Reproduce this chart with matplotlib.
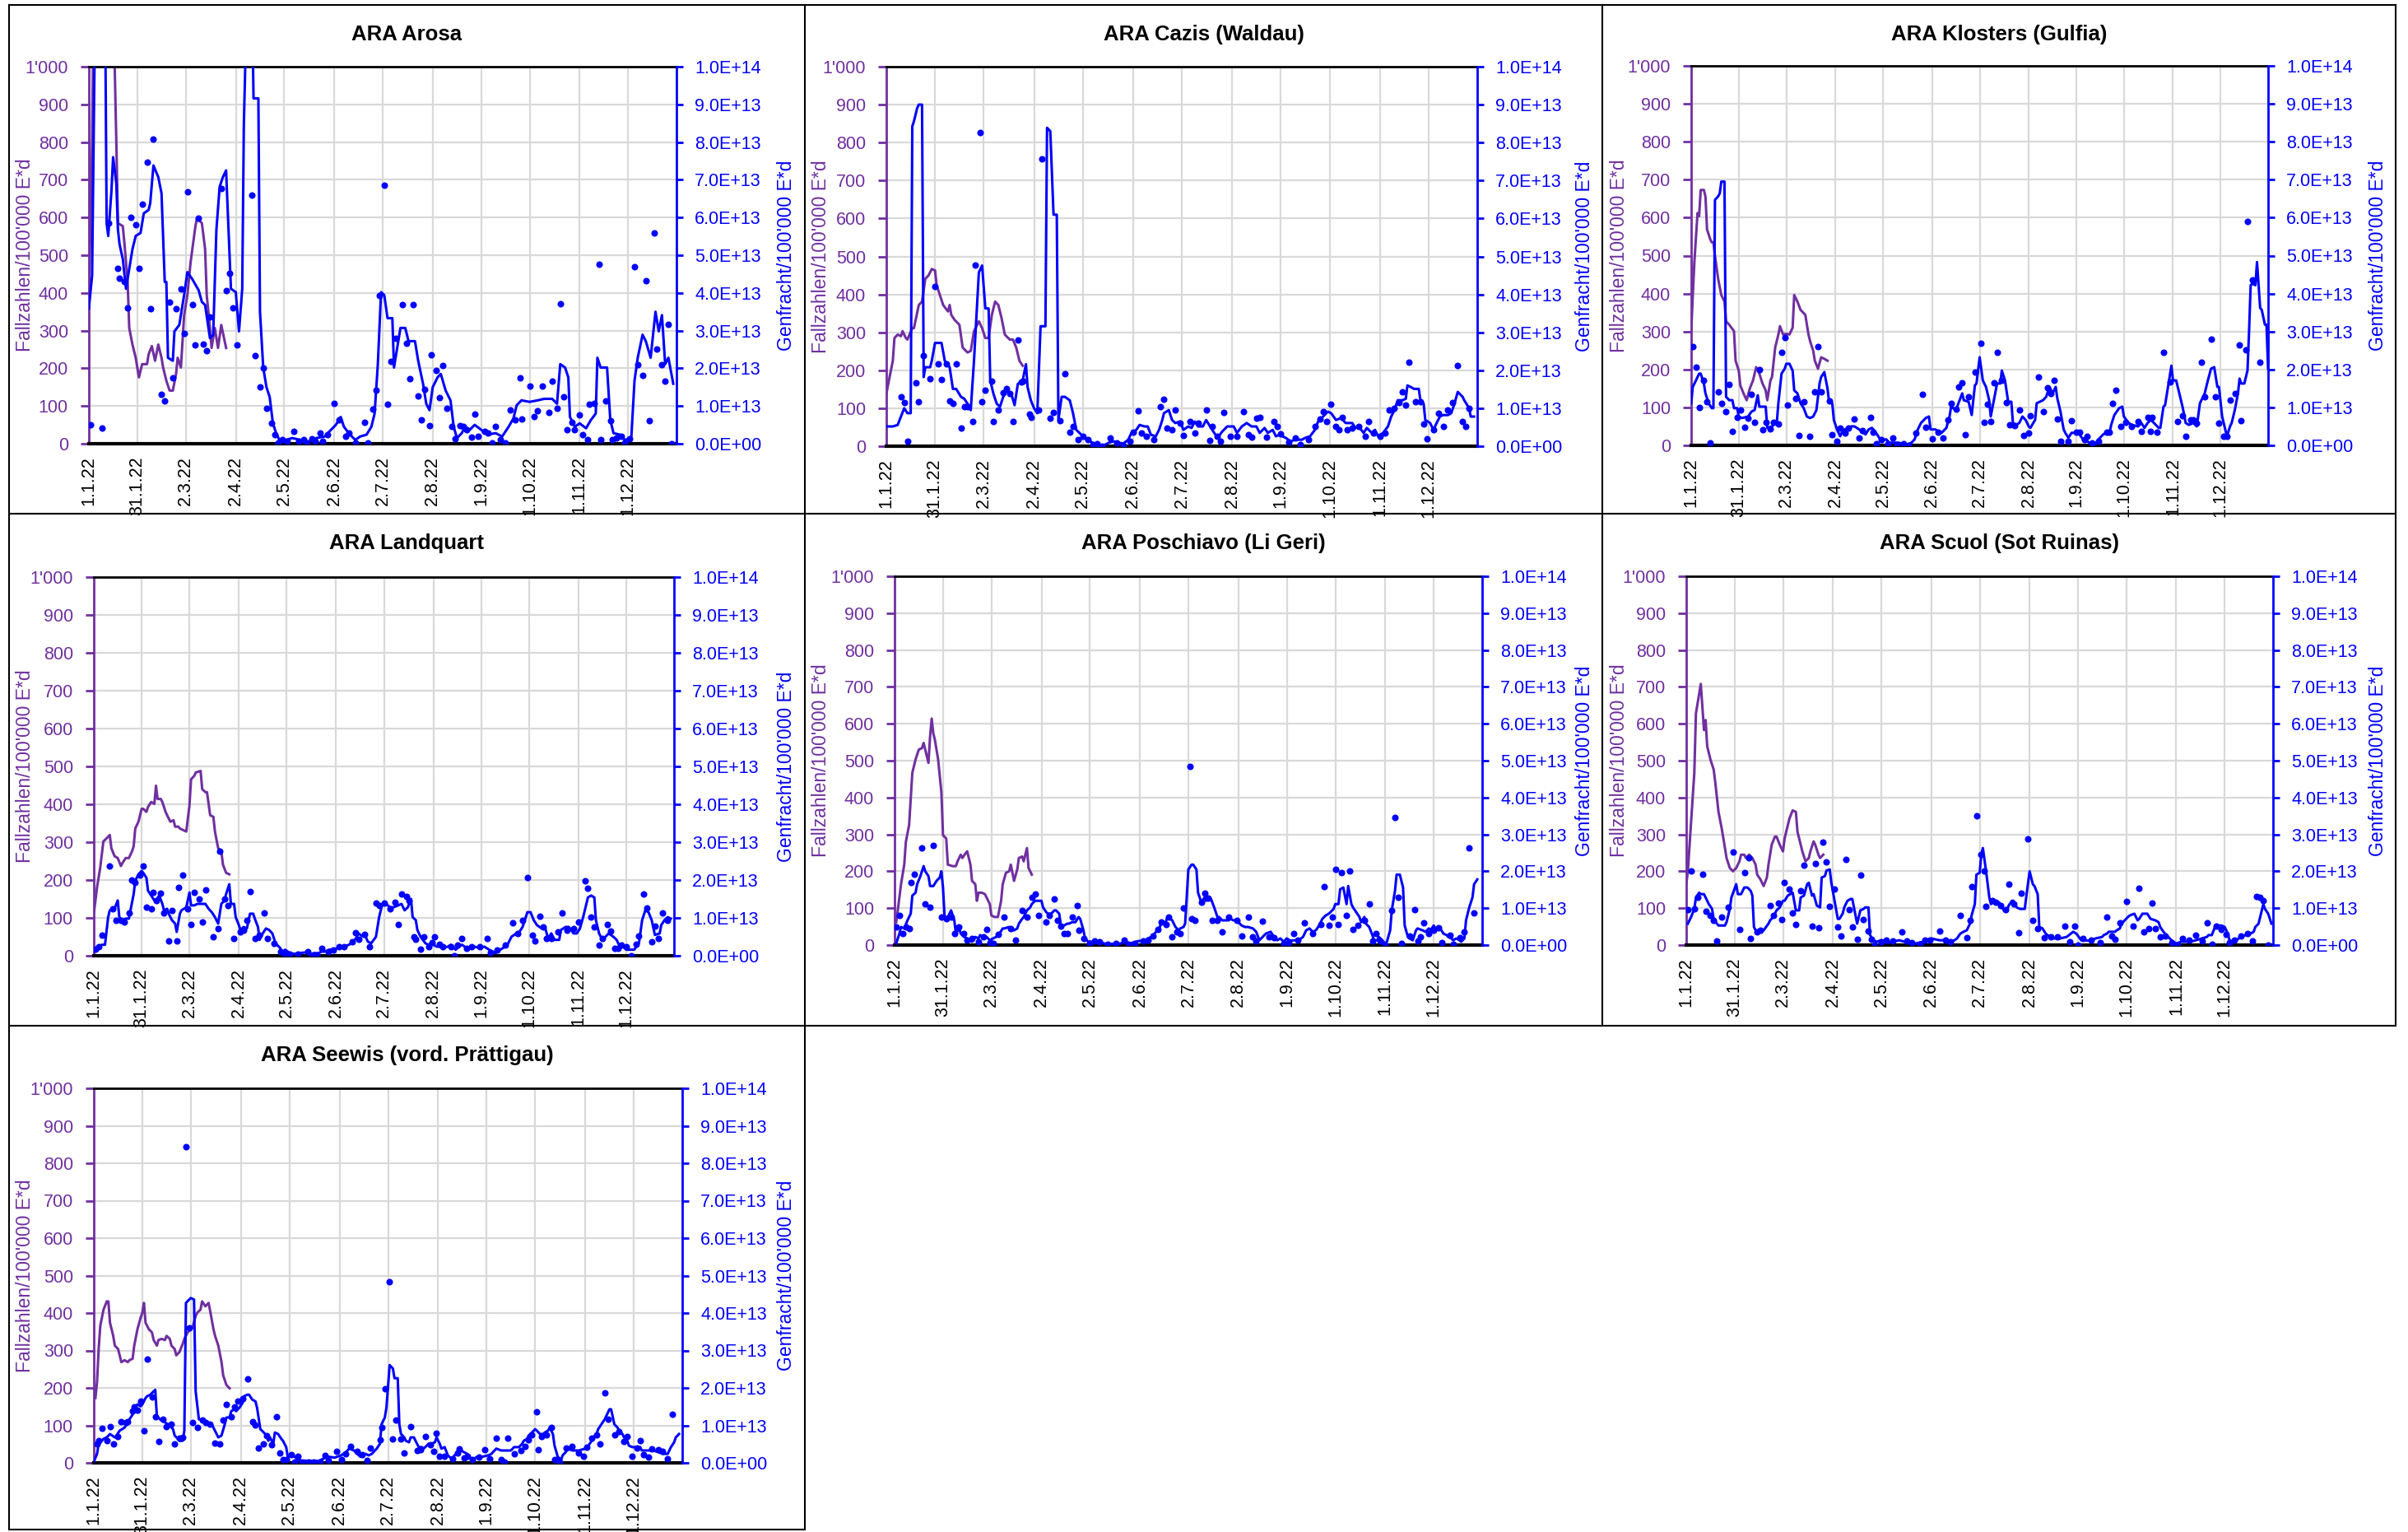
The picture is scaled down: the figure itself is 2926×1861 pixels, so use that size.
import matplotlib

matplotlib.use("Agg")
import matplotlib.pyplot as plt
import numpy as np
from matplotlib.lines import Line2D
from matplotlib.ticker import FuncFormatter

plt.rcParams["font.family"] = ["Liberation Sans", "DejaVu Sans"]

W, H = 2926, 1861
PURPLE = "#7030A0"
BLUE = "#0000FF"
GRID = "#D9D9D9"
LOAD_UNIT = 1e13  # gene load values below are given in units of 1E+13

tick_days = [0, 30, 60, 91, 121, 152, 182, 213, 243, 273, 304, 334]
tick_labels = ["1.1.22", "31.1.22", "2.3.22", "2.4.22", "2.5.22", "2.6.22",
               "2.7.22", "2.8.22", "1.9.22", "1.10.22", "1.11.22", "1.12.22"]

# ---- ARA Arosa ----
arosa_cases = [(0, 380), (2, 800), (3, 1200), (10, 1300), (15, 1200), (17, 800), (18, 585), (21, 577),
               (22, 533), (24, 429), (25, 307), (27, 263), (29, 228), (31, 176), (33, 211), (36, 211),
               (37, 237), (39, 259), (41, 220), (43, 263), (45, 228), (46, 202), (48, 167), (50, 141),
               (52, 141), (54, 185), (55, 228), (57, 202), (59, 341), (61, 394), (63, 481), (66, 577),
               (67, 598), (70, 585), (72, 516), (73, 394), (75, 307), (76, 254), (78, 307), (80, 254),
               (82, 315), (85, 254)]
arosa_load = [(0, 3.59), (2, 4.46), (4, 12), (10, 12), (11, 5.85), (12, 5.51), (14, 6.72), (15, 7.6),
              (17, 6.9), (18, 5.68), (19, 5.29), (21, 4.9), (23, 4.11), (25, 4.63), (27, 5.16), (29, 5.51),
              (32, 5.59), (34, 6.11), (37, 6.2), (38, 6.38), (40, 7.38), (43, 7.07), (45, 6.64), (47, 4.29),
              (48, 4.29), (49, 2.28), (52, 2.2), (53, 2.98), (56, 3.15), (59, 3.94), (61, 4.55), (64, 4.37),
              (68, 4.07), (70, 3.76), (72, 3.68), (75, 2.8), (77, 2.89), (79, 5.68), (81, 6.81), (83, 7.07),
              (85, 7.25), (87, 5.16), (88, 4.11), (91, 4.02), (93, 2.98), (95, 4.11), (96, 8.47), (98, 12),
              (101, 12), (102, 9.16), (105, 9.16), (106, 3.5), (108, 2.02), (110, 1.5), (112, 1.24),
              (114, 0.54), (116, 0.28), (118, 0.1), (122, 0.1), (126, 0.15), (131, 0.1), (136, 0.06),
              (141, 0.15), (146, 0.19), (150, 0.37), (153, 0.5), (156, 0.71), (158, 0.45), (161, 0.28),
              (165, 0.1), (168, 0.19), (172, 0.24), (175, 0.45), (177, 0.8), (179, 2.11), (181, 4.02),
              (183, 3.94), (185, 3.33), (188, 3.33), (189, 2.02), (192, 2.8), (193, 3.07), (196, 3.07),
              (198, 2.72), (202, 2.72), (204, 2.2), (207, 1.59), (209, 1.06), (211, 0.89), (213, 1.5),
              (216, 1.76), (218, 1.85), (221, 1.41), (224, 1.15), (226, 0.45), (228, 0.15), (231, 0.28),
              (233, 0.45), (236, 0.37), (239, 0.5), (243, 0.37), (247, 0.24), (252, 0.28), (256, 0.19),
              (260, 0.45), (263, 0.67), (265, 1.02), (268, 1.15), (273, 1.11), (278, 1.15), (282, 1.19),
              (287, 1.19), (290, 1.06), (292, 2.11), (295, 2.02), (297, 1.76), (298, 0.71), (301, 0.45),
              (304, 0.54), (308, 0.41), (311, 0.63), (314, 0.8), (315, 2.28), (317, 2.02), (321, 2.02),
              (323, 0.63), (325, 0.28), (329, 0.24), (332, 0.1), (336, 0.15), (338, 1.67), (340, 2.28),
              (343, 2.89), (345, 2.72), (348, 2.28), (351, 3.5), (353, 2.98), (355, 3.41), (357, 2.11),
              (359, 2.28), (362, 1.59)]
arosa_daily = [(1, 0.50), (8, 0.41), (12, 5.85), (18, 4.65), (19, 4.39), (22, 4.30), (24, 3.61), (26, 6.0),
               (29, 5.81), (31, 4.65), (33, 6.36), (36, 7.47), (38, 3.57), (40, 8.07), (45, 1.32), (47, 1.13),
               (50, 3.75), (52, 1.74), (54, 3.59), (57, 4.11), (59, 2.93), (61, 6.68), (64, 3.70), (66, 2.62),
               (68, 5.98), (71, 2.64), (73, 2.46), (75, 3.36), (82, 6.76), (85, 4.07), (87, 4.53), (89, 3.61),
               (92, 2.63), (101, 6.6), (103, 2.33), (106, 1.50), (108, 2.0), (110, 0.93), (113, 0.54),
               (115, 0.24), (117, 0.02), (120, 0.10), (123, 0.06), (127, 0.32), (130, 0.06), (133, 0.10),
               (135, 0.0), (138, 0.14), (140, 0.06), (143, 0.28), (145, 0.06), (148, 0.24), (152, 1.06),
               (155, 0.63), (159, 0.19), (161, 0.28), (165, 0.03), (171, 0.57), (173, 0.03), (176, 0.91),
               (178, 1.43), (180, 3.94), (183, 6.85), (185, 1.04), (187, 2.18), (190, 2.80), (194, 3.69),
               (197, 2.67), (199, 1.72), (201, 3.69), (204, 1.27), (206, 0.63), (208, 1.45), (211, 0.48),
               (212, 2.35), (215, 1.95), (217, 1.22), (219, 2.07), (222, 0.94), (225, 0.45), (227, 0.13),
               (230, 0.47), (232, 0.45), (234, 0.37), (237, 0.17), (239, 0.78), (241, 0.19), (245, 0.32),
               (247, 0.28), (250, 0.03), (252, 0.45), (255, 0.12), (258, 0.03), (261, 0.89), (264, 0.63),
               (267, 1.74), (268, 0.66), (273, 1.53), (276, 0.71), (278, 0.87), (281, 1.53), (285, 0.82),
               (287, 1.65), (290, 0.93), (292, 3.72), (294, 1.25), (296, 0.37), (299, 0.57), (301, 0.37),
               (304, 0.77), (306, 0.24), (309, 0.10), (310, 1.04), (313, 1.06), (316, 4.76), (317, 0.10),
               (320, 1.13), (323, 0.61), (324, 0.10), (327, 0.15), (330, 0.19), (332, 0.03), (335, 0.13),
               (338, 4.70), (340, 2.09), (343, 1.82), (345, 4.33), (347, 0.62), (350, 5.59), (352, 2.52),
               (355, 2.09), (357, 1.65), (359, 3.17), (361, 0.0)]

# ---- ARA Cazis (Waldau) ----
cazis_cases = [(0, 138), (2, 182), (4, 225), (5, 285), (7, 294), (9, 290), (10, 303), (12, 285), (13, 281),
               (16, 311), (17, 311), (20, 372), (22, 381), (24, 441), (26, 450), (28, 467), (30, 463),
               (31, 424), (33, 398), (35, 372), (38, 355), (39, 372), (40, 346), (42, 333), (45, 320),
               (47, 260), (50, 247), (52, 251), (54, 303), (57, 329), (59, 311), (61, 285), (63, 285),
               (65, 346), (67, 381), (69, 372), (71, 337), (73, 294), (76, 281), (78, 281), (80, 260),
               (82, 225), (84, 212)]
cazis_load = [(0, 0.52), (4, 0.52), (7, 0.56), (9, 0.78), (11, 1.0), (13, 0.87), (15, 0.87), (16, 8.43),
              (17, 8.56), (19, 8.91), (20, 9.0), (22, 9.0), (23, 1.82), (24, 2.08), (27, 2.08), (28, 2.25),
              (30, 2.72), (34, 2.72), (36, 2.25), (39, 2.08), (41, 1.51), (43, 1.51), (46, 1.3), (48, 1.25),
              (50, 1.12), (52, 0.95), (54, 2.25), (57, 4.58), (59, 4.76), (61, 3.63), (63, 3.63), (64, 1.73),
              (66, 1.38), (68, 1.12), (70, 1.04), (72, 1.3), (74, 1.47), (77, 1.38), (79, 1.08), (81, 1.64),
              (84, 1.73), (86, 2.16), (87, 1.56), (89, 1.21), (91, 1.0), (93, 0.87), (95, 3.16), (98, 3.16),
              (99, 8.39), (101, 8.3), (103, 6.1), (105, 6.1), (106, 0.69), (108, 1.3), (110, 1.3),
              (113, 1.21), (115, 0.87), (117, 0.43), (119, 0.35), (122, 0.22), (124, 0.17), (127, 0.09),
              (130, 0.04), (133, 0.0), (137, 0.09), (140, 0.13), (143, 0.09), (146, 0.07), (149, 0.17),
              (151, 0.35), (154, 0.43), (156, 0.56), (159, 0.52), (161, 0.52), (163, 0.3), (166, 0.26),
              (168, 0.43), (170, 0.69), (171, 0.87), (174, 0.95), (176, 0.69), (178, 0.61), (181, 0.65),
              (183, 0.43), (186, 0.52), (188, 0.48), (190, 0.65), (192, 0.52), (195, 0.52), (197, 0.69),
              (200, 0.48), (202, 0.35), (204, 0.22), (207, 0.39), (210, 0.52), (214, 0.52), (216, 0.35),
              (219, 0.52), (222, 0.61), (225, 0.52), (228, 0.52), (230, 0.35), (233, 0.48), (235, 0.35),
              (238, 0.43), (240, 0.26), (242, 0.3), (246, 0.22), (249, 0.13), (252, 0.17), (256, 0.17),
              (258, 0.22), (261, 0.26), (264, 0.43), (266, 0.65), (269, 0.78), (272, 0.91), (274, 0.87),
              (277, 0.69), (280, 0.74), (283, 0.61), (287, 0.61), (289, 0.48), (291, 0.52), (294, 0.35),
              (296, 0.48), (299, 0.35), (301, 0.43), (303, 0.26), (306, 0.35), (309, 0.52), (311, 0.78),
              (313, 0.95), (315, 1.21), (318, 1.21), (320, 1.25), (321, 1.6), (323, 1.56), (325, 1.51),
              (328, 1.51), (329, 1.21), (331, 1.12), (332, 0.69), (335, 0.61), (337, 0.43), (339, 0.61),
              (341, 0.78), (343, 0.82), (346, 0.82), (348, 0.87), (350, 1.12), (352, 1.43), (355, 1.3),
              (356, 1.21), (359, 1.0), (360, 0.78), (362, 0.78)]
cazis_daily = [(9, 1.30), (11, 1.14), (13, 0.13), (18, 1.66), (20, 1.17), (23, 2.38), (27, 1.77), (30, 4.2),
               (32, 2.18), (34, 1.75), (37, 2.18), (39, 1.19), (41, 1.12), (43, 2.16), (46, 0.48), (48, 1.04),
               (50, 1.04), (53, 0.65), (55, 4.78), (58, 8.26), (59, 1.17), (61, 1.47), (65, 1.71), (66, 0.65),
               (69, 0.95), (72, 1.4), (74, 1.51), (76, 1.38), (78, 0.65), (81, 2.79), (83, 1.69), (84, 1.71),
               (88, 0.85), (89, 0.76), (94, 0.95), (96, 7.56), (101, 0.74), (103, 0.88), (107, 0.67),
               (110, 1.9), (113, 0.36), (115, 0.52), (118, 0.17), (121, 0.26), (124, 0.17), (127, 0.04),
               (130, 0.07), (133, 0.0), (138, 0.22), (142, 0.09), (146, 0.02), (150, 0.13), (152, 0.36),
               (155, 0.93), (157, 0.35), (160, 0.26), (165, 0.17), (169, 1.04), (171, 1.23), (173, 0.48),
               (176, 0.43), (178, 0.95), (181, 0.61), (183, 0.28), (187, 0.65), (190, 0.35), (192, 0.61),
               (197, 0.95), (199, 0.16), (201, 0.52), (204, 0.26), (206, 0.13), (208, 0.88), (212, 0.26),
               (216, 0.26), (220, 0.91), (223, 0.3), (225, 0.24), (228, 0.74), (230, 0.76), (234, 0.24),
               (239, 0.65), (241, 0.52), (243, 0.33), (248, 0.1), (252, 0.22), (255, 0.04), (260, 0.17),
               (264, 0.52), (267, 0.71), (269, 0.91), (271, 0.65), (274, 1.11), (277, 0.52), (279, 0.43),
               (281, 0.76), (284, 0.43), (287, 0.48), (291, 0.52), (295, 0.26), (297, 0.65), (300, 0.35),
               (304, 0.26), (307, 0.35), (310, 0.95), (313, 0.99), (316, 1.14), (318, 1.43), (320, 1.08),
               (322, 2.21), (326, 1.17), (329, 1.17), (331, 0.59), (333, 0.19), (337, 0.43), (340, 0.87),
               (343, 0.52), (346, 0.95), (349, 1.14), (352, 2.12), (355, 0.65), (357, 0.52), (359, 0.99)]

# ---- ARA Klosters (Gulfia) ----
klosters_cases = [(0, 300), (1, 396), (2, 483), (4, 612), (5, 604), (6, 673), (8, 673), (9, 656), (10, 569),
                  (12, 543), (13, 535), (14, 535), (15, 500), (17, 439), (19, 396), (21, 379), (22, 327),
                  (24, 318), (27, 301), (28, 223), (30, 197), (31, 158), (33, 137), (35, 119), (37, 150),
                  (39, 171), (41, 206), (43, 189), (45, 163), (47, 145), (48, 119), (50, 171), (51, 180),
                  (53, 258), (55, 292), (56, 314), (58, 292), (60, 294), (62, 292), (64, 310), (65, 396),
                  (67, 379), (69, 357), (72, 344), (74, 292), (75, 275), (77, 249), (78, 223), (80, 202),
                  (82, 232), (84, 228), (86, 223)]
klosters_load = [(0, 1.11), (1, 1.54), (3, 1.71), (5, 1.89), (6, 1.89), (8, 1.63), (9, 1.37), (11, 1.11),
                 (13, 0.98), (14, 0.98), (15, 6.47), (17, 6.56), (18, 6.64), (19, 6.95), (21, 6.95), (22, 1.28),
                 (24, 1.19), (26, 1.19), (27, 0.98), (29, 0.98), (30, 0.76), (32, 0.72), (36, 0.76), (38, 0.89),
                 (40, 0.93), (42, 1.32), (43, 1.02), (47, 1.02), (48, 0.46), (51, 0.5), (52, 0.54), (54, 0.59),
                 (55, 1.11), (57, 1.89), (59, 2.02), (60, 2.15), (62, 2.15), (64, 1.97), (65, 1.45), (67, 1.37),
                 (69, 1.11), (71, 0.98), (73, 0.76), (75, 0.72), (77, 0.76), (79, 0.93), (81, 1.63), (82, 1.8),
                 (84, 1.93), (86, 1.5), (87, 1.15), (89, 1.11), (90, 0.67), (92, 0.42), (94, 0.24), (95, 0.33),
                 (97, 0.42), (99, 0.46), (101, 0.5), (103, 0.5), (106, 0.42), (108, 0.35), (110, 0.29),
                 (112, 0.42), (114, 0.46), (116, 0.37), (118, 0.24), (120, 0.11), (123, 0.16), (125, 0.07),
                 (128, 0.07), (131, 0.07), (134, 0.03), (137, 0.03), (139, 0.07), (141, 0.16), (143, 0.42),
                 (145, 0.59), (148, 0.72), (150, 0.76), (151, 0.42), (154, 0.42), (156, 0.37), (158, 0.33),
                 (161, 0.46), (163, 0.76), (164, 1.02), (167, 0.93), (169, 1.15), (171, 1.37), (172, 1.19),
                 (175, 1.15), (177, 0.8), (179, 1.58), (180, 1.63), (182, 2.32), (184, 1.71), (186, 1.54),
                 (188, 1.19), (189, 0.76), (191, 1.19), (193, 1.63), (195, 1.63), (196, 1.97), (198, 1.71),
                 (200, 1.15), (202, 1.15), (203, 0.59), (205, 0.54), (207, 0.59), (209, 0.76), (211, 0.67),
                 (213, 0.5), (214, 0.46), (217, 0.67), (218, 1.11), (220, 1.15), (222, 1.19), (224, 1.28),
                 (226, 1.54), (228, 1.37), (230, 1.54), (231, 1.24), (233, 0.89), (235, 0.42), (236, 0.33),
                 (238, 0.2), (240, 0.33), (243, 0.33), (245, 0.29), (248, 0.11), (250, 0.11), (252, 0.03),
                 (255, 0.03), (257, 0.16), (260, 0.29), (262, 0.33), (264, 0.33), (265, 0.54), (267, 0.8),
                 (270, 0.98), (272, 1.02), (273, 0.76), (276, 0.59), (278, 0.54), (282, 0.5), (284, 0.59),
                 (286, 0.46), (288, 0.59), (290, 0.67), (292, 0.59), (295, 0.46), (296, 0.46), (298, 1.02),
                 (299, 1.06), (301, 1.58), (303, 2.1), (304, 1.71), (306, 1.71), (308, 1.37), (310, 1.02),
                 (312, 0.59), (314, 0.54), (317, 0.59), (319, 0.5), (321, 1.11), (324, 1.37), (326, 1.71),
                 (328, 2.02), (330, 2.06), (332, 1.54), (333, 1.54), (335, 0.76), (337, 0.42), (338, 0.24),
                 (340, 0.5), (341, 0.59), (343, 0.93), (345, 1.37), (346, 1.76), (347, 1.63), (349, 1.63),
                 (351, 1.97), (352, 3.01), (353, 4.22), (354, 4.26), (356, 4.22), (357, 4.83), (359, 3.62),
                 (360, 3.57), (362, 3.18), (363, 3.18), (364, 2.02)]
klosters_daily = [(1, 2.6), (3, 2.06), (5, 1.0), (8, 1.71), (10, 1.15), (12, 0.07), (17, 1.41), (19, 1.11),
                  (22, 0.89), (24, 1.61), (26, 0.37), (29, 0.74), (31, 0.93), (34, 0.48), (36, 0.72), (38, 1.35),
                  (40, 0.61), (43, 1.99), (45, 0.42), (47, 0.61), (50, 0.43), (52, 0.61), (55, 0.57), (57, 2.45),
                  (59, 2.85), (61, 1.06), (66, 1.24), (68, 0.26), (71, 1.15), (75, 0.24), (78, 1.41), (80, 2.6),
                  (82, 1.41), (87, 1.18), (89, 0.29), (92, 0.11), (94, 0.46), (97, 0.33), (99, 0.46), (103, 0.69),
                  (106, 0.2), (108, 0.4), (113, 0.74), (115, 0.35), (117, 0.05), (120, 0.16), (124, 0.05),
                  (127, 0.2), (130, 0.03), (134, 0.05), (137, 0.0), (142, 0.33), (146, 1.34), (148, 0.48),
                  (152, 0.17), (156, 0.35), (159, 0.2), (162, 0.67), (164, 1.11), (167, 0.95), (169, 1.54),
                  (171, 1.64), (173, 0.28), (175, 1.28), (179, 1.93), (183, 2.68), (185, 0.61), (187, 1.09),
                  (189, 0.63), (191, 1.64), (193, 2.45), (196, 1.71), (199, 1.12), (201, 0.54), (204, 0.52),
                  (207, 0.93), (210, 0.26), (213, 0.33), (214, 0.78), (219, 1.8), (222, 0.89), (225, 1.52),
                  (227, 1.37), (229, 1.71), (231, 0.69), (233, 0.11), (238, 0.11), (240, 0.65), (243, 0.35),
                  (245, 0.35), (248, 0.16), (250, 0.24), (253, 0.07), (257, 0.11), (262, 0.35), (264, 0.35),
                  (266, 1.11), (268, 1.45), (271, 0.5), (274, 0.61), (278, 0.5), (282, 0.63), (284, 0.37),
                  (288, 0.74), (290, 0.37), (291, 0.74), (294, 0.35), (298, 2.45), (302, 1.67), (307, 0.63),
                  (310, 0.78), (312, 0.24), (315, 0.67), (317, 0.67), (319, 0.59), (322, 2.19), (324, 1.28),
                  (328, 2.79), (331, 1.28), (333, 0.59), (336, 0.24), (338, 0.24), (340, 1.19), (343, 1.37),
                  (346, 2.65), (347, 0.65), (350, 2.51), (351, 5.91), (354, 4.35), (359, 2.19)]

# ---- ARA Landquart ----
landquart_cases = [(0, 111), (2, 180), (4, 232), (6, 302), (8, 310), (10, 319), (11, 284), (13, 263), (15, 258),
                   (17, 237), (18, 245), (20, 258), (22, 258), (24, 276), (25, 289), (26, 336), (28, 354),
                   (30, 388), (31, 388), (33, 380), (34, 393), (36, 406), (38, 401), (39, 449), (40, 414),
                   (42, 414), (43, 406), (45, 380), (46, 371), (48, 354), (50, 358), (51, 341), (53, 341),
                   (54, 336), (56, 332), (58, 328), (60, 397), (61, 466), (63, 475), (64, 484), (67, 488),
                   (68, 440), (70, 432), (71, 432), (73, 371), (75, 367), (76, 328), (78, 284), (80, 276),
                   (81, 241), (83, 219), (85, 215)]
landquart_load = [(0, 0.11), (2, 0.2), (5, 0.29), (7, 0.29), (9, 1.02), (10, 1.2), (13, 1.24), (15, 1.46),
                  (16, 1.02), (18, 0.94), (20, 0.98), (22, 0.98), (23, 1.2), (25, 1.63), (26, 1.98), (28, 2.15),
                  (30, 2.24), (31, 2.19), (33, 2.06), (34, 1.72), (36, 1.59), (38, 1.46), (39, 1.46), (41, 1.59),
                  (43, 1.37), (44, 1.2), (46, 1.24), (47, 1.11), (49, 0.94), (51, 0.85), (52, 0.63), (54, 1.11),
                  (55, 1.2), (58, 1.28), (60, 1.67), (61, 1.33), (63, 1.33), (65, 1.37), (67, 1.37), (70, 1.37),
                  (72, 1.24), (74, 1.15), (76, 1.02), (78, 0.85), (80, 1.37), (82, 1.46), (83, 1.63), (85, 1.89),
                  (86, 1.37), (88, 1.37), (89, 1.02), (91, 0.81), (92, 0.68), (94, 0.76), (96, 0.72), (98, 1.11),
                  (100, 1.11), (101, 0.98), (103, 0.76), (104, 0.42), (106, 0.59), (108, 0.72), (110, 0.68),
                  (112, 0.59), (114, 0.33), (117, 0.2), (118, 0.07), (120, 0.16), (123, 0.07), (126, 0.05),
                  (129, 0.07), (133, 0.09), (136, 0.03), (138, 0.07), (141, 0.07), (143, 0.11), (145, 0.11),
                  (148, 0.16), (150, 0.16), (153, 0.2), (155, 0.24), (157, 0.24), (160, 0.29), (163, 0.37),
                  (165, 0.5), (166, 0.59), (169, 0.5), (170, 0.55), (172, 0.37), (174, 0.33), (177, 0.5),
                  (179, 1.02), (181, 1.37), (183, 1.37), (186, 1.28), (188, 1.28), (191, 1.33), (193, 1.37),
                  (195, 1.2), (197, 1.28), (199, 1.5), (200, 1.02), (202, 0.94), (203, 0.68), (205, 0.5),
                  (208, 0.33), (210, 0.29), (212, 0.33), (215, 0.24), (217, 0.24), (219, 0.2), (222, 0.24),
                  (224, 0.29), (227, 0.16), (229, 0.24), (231, 0.29), (234, 0.2), (237, 0.2), (239, 0.24),
                  (242, 0.2), (245, 0.24), (248, 0.16), (252, 0.07), (255, 0.16), (258, 0.24), (260, 0.33),
                  (262, 0.5), (265, 0.59), (267, 0.63), (269, 0.76), (272, 1.15), (274, 1.15), (276, 0.94),
                  (278, 0.81), (281, 0.72), (283, 0.76), (285, 0.46), (287, 0.59), (289, 0.42), (292, 0.42),
                  (293, 0.68), (296, 0.76), (298, 0.76), (301, 0.59), (303, 0.59), (305, 0.72), (307, 1.02),
                  (310, 1.54), (312, 1.59), (314, 1.54), (315, 0.94), (317, 0.59), (319, 0.42), (321, 0.5),
                  (323, 0.59), (326, 0.5), (328, 0.42), (330, 0.24), (332, 0.24), (334, 0.16), (337, 0.16),
                  (339, 0.16), (342, 0.33), (344, 0.94), (346, 1.2), (348, 1.15), (350, 0.94), (352, 0.55),
                  (355, 0.59), (356, 0.81), (358, 0.94), (360, 1.02), (362, 0.98)]
landquart_daily = [(1, 0.17), (3, 0.24), (5, 0.55), (10, 2.37), (12, 1.24), (14, 0.94), (17, 0.94), (19, 0.89),
                   (22, 1.13), (24, 1.99), (26, 1.93), (29, 2.13), (31, 2.37), (33, 1.28), (36, 1.24), (37, 1.67),
                   (39, 1.46), (42, 1.65), (44, 1.13), (47, 0.4), (49, 1.2), (52, 0.4), (53, 1.8), (56, 2.13),
                   (59, 1.24), (61, 0.83), (63, 1.67), (66, 1.5), (68, 0.89), (70, 1.73), (75, 0.49), (78, 0.72),
                   (79, 2.76), (82, 1.5), (84, 1.33), (88, 0.46), (92, 0.63), (94, 0.68), (96, 0.94), (98, 1.7),
                   (101, 0.46), (104, 0.55), (107, 1.13), (109, 0.46), (113, 0.33), (117, 0.11), (120, 0.07),
                   (123, 0.05), (128, 0.05), (134, 0.11), (137, 0.0), (140, 0.0), (143, 0.2), (147, 0.11),
                   (150, 0.16), (154, 0.24), (157, 0.24), (162, 0.37), (164, 0.61), (166, 0.43), (170, 0.57),
                   (173, 0.24), (177, 1.39), (179, 1.33), (182, 1.39), (186, 1.24), (189, 1.41), (191, 0.83),
                   (193, 1.63), (196, 1.56), (198, 1.46), (201, 0.49), (202, 0.43), (205, 0.17), (207, 0.5),
                   (210, 0.24), (212, 0.35), (214, 0.49), (217, 0.31), (219, 0.24), (224, 0.24), (226, 0.0),
                   (228, 0.29), (231, 0.46), (234, 0.2), (237, 0.24), (242, 0.24), (247, 0.46), (249, 0.09),
                   (253, 0.16), (258, 0.29), (263, 0.87), (266, 0.59), (269, 0.94), (272, 2.06), (275, 0.55),
                   (277, 0.4), (280, 1.04), (282, 0.76), (284, 0.46), (287, 0.46), (291, 0.63), (294, 1.13),
                   (297, 0.68), (301, 0.72), (304, 0.89), (308, 1.98), (310, 1.79), (312, 1.02), (314, 0.76),
                   (317, 0.29), (319, 0.46), (322, 0.83), (324, 0.66), (327, 0.2), (329, 0.2), (331, 0.29),
                   (334, 0.24), (337, 0.0), (340, 0.31), (342, 0.52), (345, 1.63), (347, 1.27), (350, 0.37),
                   (352, 0.78), (354, 0.46), (357, 1.13), (360, 0.94)]

# ---- ARA Poschiavo (Li Geri) ----
poschiavo_cases = [(1, 62), (2, 94), (4, 165), (6, 218), (7, 280), (9, 325), (10, 396), (11, 467), (13, 503),
                   (15, 530), (17, 534), (18, 548), (19, 530), (21, 494), (22, 565), (23, 614), (24, 574),
                   (25, 556), (27, 503), (29, 414), (30, 298), (32, 289), (33, 218), (36, 214), (38, 214),
                   (39, 227), (41, 245), (42, 236), (44, 249), (45, 254), (47, 218), (48, 174), (50, 165),
                   (51, 120), (52, 142), (54, 142), (56, 138), (57, 129), (59, 111), (60, 80), (62, 76),
                   (64, 76), (66, 120), (67, 165), (69, 196), (71, 200), (72, 218), (74, 174), (76, 205),
                   (77, 236), (79, 240), (80, 227), (82, 263), (83, 209), (85, 191)]
poschiavo_load = [(1, 0.04), (3, 0.31), (4, 0.49), (6, 0.45), (8, 0.67), (10, 0.85), (11, 1.34), (13, 1.42),
                  (14, 1.65), (16, 1.87), (18, 2.14), (19, 2.0), (21, 1.87), (22, 1.6), (24, 1.6), (26, 1.74),
                  (28, 1.83), (29, 2.0), (30, 1.56), (31, 0.76), (33, 0.76), (35, 0.94), (37, 0.67), (38, 0.31),
                  (40, 0.45), (41, 0.31), (43, 0.22), (45, 0.18), (46, 0.13), (48, 0.09), (50, 0.22), (52, 0.18),
                  (53, 0.27), (55, 0.22), (57, 0.22), (59, 0.13), (61, 0.18), (63, 0.22), (65, 0.31), (67, 0.45),
                  (68, 0.45), (71, 0.49), (72, 0.4), (74, 0.4), (76, 0.45), (77, 0.58), (79, 0.71), (80, 0.76),
                  (82, 0.94), (84, 1.02), (85, 1.11), (87, 1.2), (91, 1.2), (92, 1.02), (94, 0.89), (95, 0.85),
                  (97, 0.85), (99, 0.94), (100, 0.94), (102, 0.85), (103, 0.53), (105, 0.53), (107, 0.58),
                  (108, 0.58), (110, 0.62), (112, 0.62), (114, 0.76), (115, 0.71), (117, 0.4), (118, 0.18),
                  (120, 0.09), (122, 0.09), (125, 0.13), (127, 0.09), (130, 0.04), (134, 0.03), (137, 0.04),
                  (140, 0.04), (143, 0.09), (146, 0.04), (149, 0.09), (153, 0.12), (155, 0.13), (157, 0.18),
                  (160, 0.24), (161, 0.31), (164, 0.45), (165, 0.58), (168, 0.62), (169, 0.76), (172, 0.67),
                  (174, 0.49), (176, 0.4), (177, 0.45), (179, 0.49), (180, 0.58), (182, 2.05), (184, 2.18),
                  (185, 2.18), (187, 2.05), (188, 1.42), (190, 1.16), (192, 1.29), (193, 1.2), (195, 1.25),
                  (196, 1.25), (198, 1.02), (200, 0.76), (201, 0.76), (203, 0.67), (204, 0.67), (207, 0.67),
                  (208, 0.71), (210, 0.67), (212, 0.67), (215, 0.53), (217, 0.49), (219, 0.49), (222, 0.45),
                  (224, 0.36), (226, 0.13), (228, 0.22), (230, 0.31), (233, 0.36), (235, 0.22), (237, 0.13),
                  (239, 0.18), (241, 0.09), (243, 0.18), (245, 0.12), (248, 0.13), (250, 0.12), (253, 0.22),
                  (255, 0.4), (257, 0.45), (259, 0.36), (261, 0.4), (263, 0.53), (265, 0.71), (267, 0.8),
                  (269, 0.85), (270, 0.89), (272, 0.98), (273, 1.11), (275, 1.11), (276, 1.51), (278, 1.56),
                  (280, 1.11), (281, 1.6), (283, 1.11), (284, 1.02), (286, 0.89), (288, 0.76), (289, 0.62),
                  (291, 0.76), (292, 0.58), (294, 0.49), (296, 0.27), (297, 0.13), (299, 0.13), (300, 0.22),
                  (302, 0.13), (304, 0.04), (305, 0.09), (307, 0.4), (308, 0.94), (310, 1.47), (311, 1.91),
                  (313, 1.91), (315, 1.56), (316, 0.53), (318, 0.22), (319, 0.18), (321, 0.13), (323, 0.4),
                  (324, 0.45), (327, 0.4), (329, 0.36), (331, 0.45), (332, 0.4), (334, 0.53), (335, 0.45),
                  (337, 0.49), (338, 0.45), (340, 0.31), (342, 0.27), (343, 0.22), (345, 0.18), (346, 0.13),
                  (348, 0.18), (350, 0.13), (351, 0.09), (353, 0.18), (354, 0.67), (356, 1.02), (358, 1.29),
                  (359, 1.65), (361, 1.78)]
poschiavo_daily = [(1, 0.49), (3, 0.8), (5, 0.31), (7, 0.49), (9, 0.45), (10, 1.69), (12, 1.93), (17, 2.63),
                   (19, 1.11), (22, 1.02), (24, 2.7), (29, 0.76), (32, 0.71), (35, 0.76), (37, 0.31), (40, 0.49),
                   (43, 0.31), (45, 0.13), (48, 0.18), (52, 0.09), (55, 0.22), (57, 0.42), (59, 0.06), (61, 0.04),
                   (64, 0.29), (68, 0.76), (72, 0.45), (75, 0.13), (79, 0.94), (82, 0.76), (85, 1.29), (87, 1.38),
                   (89, 0.8), (94, 0.62), (96, 0.8), (99, 1.25), (101, 0.67), (103, 0.51), (105, 0.31), (107, 0.31),
                   (110, 0.76), (113, 1.07), (114, 0.4), (117, 0.18), (121, 0.04), (124, 0.12), (127, 0.09),
                   (132, 0.03), (137, 0.04), (142, 0.13), (145, 0.03), (149, 0.03), (154, 0.12), (157, 0.13),
                   (160, 0.24), (163, 0.42), (165, 0.62), (168, 0.56), (170, 0.76), (172, 0.22), (175, 0.36),
                   (177, 0.31), (179, 1.01), (183, 4.84), (184, 0.71), (186, 0.67), (190, 1.16), (192, 1.4),
                   (194, 1.27), (197, 0.67), (200, 0.67), (203, 0.36), (207, 0.77), (212, 0.67), (215, 0.24),
                   (219, 0.76), (222, 0.22), (224, 0.12), (228, 0.65), (232, 0.22), (235, 0.2), (241, 0.04),
                   (244, 0.06), (247, 0.31), (250, 0.13), (254, 0.6), (259, 0.31), (264, 0.56), (266, 1.58),
                   (269, 0.53), (271, 0.76), (273, 2.05), (275, 0.56), (277, 1.96), (280, 0.8), (282, 2.0),
                   (284, 0.42), (287, 0.53), (291, 0.67), (294, 1.11), (296, 0.12), (298, 0.31), (301, 0.12),
                   (304, 0.0), (308, 0.94), (310, 3.45), (312, 1.29), (314, 0.04), (319, 0.24), (322, 0.95),
                   (324, 0.12), (326, 0.22), (328, 0.6), (331, 0.31), (334, 0.4), (337, 0.47), (339, 0.06),
                   (344, 0.27), (346, 0.03), (350, 0.2), (353, 0.36), (356, 2.64), (359, 0.86)]

# ---- ARA Scuol (Sot Ruinas) ----
scuol_cases = [(0, 165), (1, 200), (3, 334), (5, 467), (6, 628), (8, 681), (9, 708), (10, 646), (11, 583),
               (12, 610), (13, 539), (15, 503), (17, 476), (18, 441), (20, 361), (22, 316), (24, 263), (25, 236),
               (27, 209), (29, 200), (31, 209), (33, 227), (34, 245), (36, 245), (37, 236), (39, 245), (41, 236),
               (43, 218), (44, 191), (46, 178), (48, 160), (50, 183), (51, 218), (53, 272), (55, 294), (56, 294),
               (58, 272), (60, 254), (61, 289), (62, 307), (64, 343), (66, 365), (68, 361), (69, 307), (71, 272),
               (72, 254), (74, 227), (76, 236), (77, 254), (79, 281), (80, 272), (82, 245), (83, 236), (85, 245)]
scuol_load = [(1, 0.58), (2, 0.67), (3, 0.76), (5, 0.98), (6, 1.29), (8, 1.42), (9, 1.38), (11, 1.38), (12, 1.29),
              (14, 1.11), (16, 0.98), (17, 0.71), (19, 0.58), (20, 0.53), (24, 0.53), (25, 0.62), (27, 0.98),
              (28, 1.29), (31, 1.65), (32, 1.38), (34, 1.38), (36, 1.56), (38, 1.56), (40, 1.47), (41, 1.34),
              (42, 0.49), (44, 0.31), (46, 0.36), (48, 0.4), (51, 0.58), (52, 0.67), (54, 0.76), (56, 0.94),
              (58, 1.02), (60, 1.2), (61, 1.2), (63, 1.34), (66, 1.42), (68, 0.94), (70, 0.94), (71, 1.29),
              (73, 1.34), (75, 1.65), (76, 1.69), (78, 1.34), (79, 1.38), (81, 1.07), (83, 1.02), (84, 1.83),
              (86, 1.87), (87, 2.02), (89, 2.05), (90, 1.69), (92, 1.2), (94, 0.71), (95, 0.71), (97, 0.85),
              (98, 1.02), (100, 1.2), (102, 1.25), (103, 1.25), (105, 0.8), (106, 0.58), (108, 0.94), (110, 0.98),
              (111, 1.02), (113, 1.02), (114, 0.27), (116, 0.13), (118, 0.09), (121, 0.13), (125, 0.06),
              (132, 0.13), (138, 0.06), (142, 0.04), (147, 0.09), (152, 0.18), (157, 0.13), (161, 0.13),
              (166, 0.12), (168, 0.18), (170, 0.31), (172, 0.36), (174, 0.4), (176, 0.58), (177, 0.8), (179, 1.11),
              (180, 1.91), (182, 1.96), (183, 2.45), (184, 2.63), (186, 2.0), (188, 1.29), (189, 1.11), (191, 1.2),
              (192, 1.11), (194, 1.16), (196, 1.02), (197, 0.94), (199, 0.94), (200, 1.07), (202, 1.2), (203, 1.2),
              (205, 1.02), (207, 0.98), (210, 0.98), (211, 1.34), (213, 2.0), (215, 1.65), (216, 1.6), (218, 1.38),
              (219, 0.49), (221, 0.45), (223, 0.31), (224, 0.27), (226, 0.22), (228, 0.18), (232, 0.18),
              (236, 0.22), (240, 0.36), (242, 0.31), (245, 0.13), (250, 0.12), (254, 0.18), (258, 0.22),
              (259, 0.27), (261, 0.31), (262, 0.36), (266, 0.36), (267, 0.4), (269, 0.45), (270, 0.58),
              (272, 0.67), (274, 0.76), (275, 0.8), (278, 0.85), (280, 0.67), (281, 0.71), (283, 0.85),
              (286, 0.85), (288, 0.71), (291, 0.67), (293, 0.62), (294, 0.49), (296, 0.36), (297, 0.31),
              (299, 0.22), (301, 0.13), (302, 0.09), (304, 0.04), (307, 0.09), (313, 0.09), (320, 0.18),
              (323, 0.22), (324, 0.27), (326, 0.27), (328, 0.49), (331, 0.53), (332, 0.53), (334, 0.49),
              (336, 0.31), (337, 0.13), (340, 0.09), (344, 0.22), (347, 0.27), (350, 0.31), (352, 0.36),
              (353, 0.49), (355, 0.58), (356, 0.76), (358, 1.11), (359, 0.98), (361, 0.85), (363, 0.58)]
scuol_daily = [(1, 0.95), (3, 2.02), (5, 0.98), (7, 1.29), (10, 1.93), (12, 0.92), (15, 0.8), (17, 0.67),
               (19, 0.12), (22, 0.77), (26, 1.02), (29, 2.52), (33, 0.42), (36, 1.96), (39, 2.36), (40, 0.18),
               (44, 0.36), (46, 0.4), (52, 1.07), (54, 0.8), (57, 1.13), (59, 0.69), (61, 1.69), (64, 1.51),
               (66, 0.86), (68, 0.56), (71, 1.47), (73, 2.16), (78, 0.51), (80, 2.2), (82, 0.47), (85, 2.79),
               (87, 2.25), (89, 1.04), (92, 1.51), (94, 0.49), (96, 0.24), (99, 2.32), (101, 0.95), (103, 0.49),
               (106, 0.15), (108, 1.9), (110, 0.69), (113, 0.38), (115, 0.15), (117, 0.0), (121, 0.09),
               (124, 0.13), (128, 0.12), (134, 0.36), (137, 0.12), (140, 0.06), (145, 0.03), (148, 0.13),
               (151, 0.13), (157, 0.38), (161, 0.13), (164, 0.09), (170, 0.8), (174, 0.2), (176, 0.67),
               (177, 1.58), (180, 3.5), (183, 2.45), (185, 2.0), (186, 1.04), (190, 1.2), (192, 1.16),
               (195, 1.07), (198, 0.95), (200, 1.65), (203, 1.11), (206, 0.33), (208, 1.4), (212, 2.89),
               (215, 0.67), (218, 0.45), (222, 0.2), (226, 0.22), (230, 0.22), (235, 0.51), (238, 0.09),
               (241, 0.51), (243, 0.0), (246, 0.18), (251, 0.13), (257, 0.06), (261, 0.77), (264, 0.24),
               (266, 0.15), (269, 0.6), (273, 1.18), (277, 0.51), (281, 1.54), (284, 0.36), (287, 0.45),
               (289, 1.13), (291, 0.45), (294, 0.22), (297, 0.24), (301, 0.06), (305, 0.0), (308, 0.18),
               (312, 0.13), (316, 0.27), (320, 0.12), (323, 0.6), (326, 0.03), (329, 0.51), (332, 0.42),
               (335, 0.29), (337, 0.06), (340, 0.13), (344, 0.24), (348, 0.31), (351, 0.12), (354, 1.31),
               (356, 1.29), (358, 1.2), (361, 0.0)]

# ---- ARA Seewis (vord. Prättigau) ----
seewis_cases = [(1, 173), (2, 217), (3, 304), (4, 366), (6, 409), (8, 431), (9, 431), (10, 374), (12, 339),
                (13, 313), (15, 304), (16, 287), (17, 269), (19, 274), (21, 269), (22, 274), (24, 278), (25, 313),
                (27, 357), (29, 388), (30, 401), (31, 427), (32, 374), (34, 357), (36, 348), (37, 328), (39, 313),
                (40, 328), (42, 331), (44, 328), (45, 339), (47, 331), (48, 313), (50, 304), (51, 287), (53, 296),
                (55, 318), (56, 331), (58, 348), (60, 357), (61, 361), (63, 392), (64, 401), (66, 409), (67, 431),
                (69, 418), (71, 427), (72, 405), (74, 357), (75, 339), (77, 313), (79, 269), (80, 234), (82, 208),
                (84, 199)]
seewis_load = [(0, 0.03), (2, 0.24), (3, 0.51), (5, 0.59), (6, 0.64), (8, 0.68), (10, 0.77), (13, 0.68),
               (14, 0.73), (16, 0.86), (19, 0.94), (21, 1.08), (22, 1.16), (24, 1.29), (25, 1.47), (27, 1.56),
               (29, 1.51), (30, 1.56), (32, 1.73), (33, 1.78), (35, 1.82), (37, 1.91), (38, 1.95), (39, 1.25),
               (41, 1.16), (44, 1.08), (46, 1.03), (47, 0.99), (49, 0.9), (50, 0.73), (52, 0.64), (53, 0.59),
               (55, 0.59), (56, 0.86), (57, 4.27), (59, 4.36), (60, 4.4), (62, 4.36), (63, 1.91), (65, 1.16),
               (66, 1.16), (68, 1.08), (69, 1.03), (73, 1.03), (74, 0.94), (76, 0.77), (77, 0.68), (79, 0.73),
               (81, 1.03), (82, 1.21), (84, 1.21), (85, 1.38), (87, 1.43), (88, 1.38), (90, 1.47), (92, 1.6),
               (93, 1.78), (95, 1.82), (96, 1.82), (98, 1.69), (100, 1.64), (101, 1.47), (103, 0.9), (104, 0.86),
               (106, 0.77), (108, 0.59), (109, 0.68), (111, 0.51), (112, 0.81), (114, 0.77), (116, 0.64),
               (117, 0.59), (119, 0.42), (120, 0.16), (123, 0.2), (127, 0.07), (133, 0.05), (139, 0.05),
               (142, 0.11), (144, 0.17), (149, 0.14), (153, 0.2), (156, 0.29), (158, 0.38), (161, 0.33),
               (163, 0.24), (165, 0.16), (168, 0.24), (170, 0.2), (172, 0.24), (175, 0.38), (177, 0.51),
               (178, 1.03), (180, 1.21), (181, 1.47), (183, 2.61), (185, 2.52), (186, 2.26), (188, 2.26),
               (189, 1.03), (190, 0.77), (192, 0.68), (193, 0.59), (195, 0.55), (196, 0.68), (198, 0.68),
               (199, 0.59), (201, 0.42), (203, 0.42), (204, 0.38), (206, 0.46), (207, 0.51), (209, 0.51),
               (211, 0.55), (212, 0.68), (214, 0.51), (215, 0.38), (217, 0.42), (219, 0.2), (220, 0.16),
               (222, 0.07), (223, 0.2), (225, 0.24), (227, 0.33), (231, 0.24), (234, 0.07), (237, 0.16),
               (240, 0.16), (244, 0.2), (246, 0.24), (247, 0.29), (249, 0.38), (252, 0.33), (255, 0.33),
               (258, 0.33), (260, 0.42), (263, 0.42), (265, 0.51), (266, 0.59), (268, 0.64), (269, 0.73),
               (271, 0.81), (273, 0.9), (274, 0.86), (276, 0.77), (278, 0.77), (279, 0.81), (281, 0.86),
               (282, 0.94), (284, 0.77), (285, 0.46), (287, 0.16), (289, 0.07), (290, 0.2), (292, 0.29),
               (293, 0.38), (296, 0.33), (300, 0.33), (304, 0.38), (306, 0.46), (308, 0.59), (309, 0.68),
               (311, 0.77), (312, 0.9), (314, 1.03), (316, 1.16), (317, 1.25), (319, 1.43), (320, 1.43),
               (322, 1.03), (324, 0.94), (325, 0.86), (327, 0.77), (328, 0.68), (330, 0.59), (331, 0.46),
               (333, 0.42), (338, 0.42), (339, 0.33), (346, 0.33), (349, 0.29), (352, 0.24), (355, 0.24),
               (357, 0.42), (359, 0.55), (360, 0.68), (362, 0.77)]
seewis_daily = [(2, 0.51), (3, 0.59), (5, 0.93), (8, 0.59), (10, 0.96), (12, 0.51), (15, 0.7), (17, 1.1),
                (20, 1.08), (21, 1.1), (24, 1.38), (25, 1.49), (27, 1.4), (29, 1.64), (31, 0.86), (33, 2.78),
                (36, 1.75), (38, 1.22), (40, 0.58), (43, 1.16), (45, 0.96), (48, 1.03), (50, 0.51), (53, 0.66),
                (55, 0.68), (57, 8.45), (59, 3.61), (61, 1.08), (64, 0.94), (67, 1.14), (69, 1.08), (72, 1.03),
                (75, 0.52), (78, 0.51), (80, 1.14), (82, 1.56), (85, 1.22), (87, 1.49), (89, 1.64), (92, 1.71),
                (95, 2.24), (98, 1.1), (100, 1.01), (102, 0.4), (105, 0.51), (107, 0.73), (110, 0.49), (113, 1.22),
                (115, 0.26), (117, 0.09), (119, 0.09), (122, 0.23), (124, 0.03), (126, 0.17), (129, 0.0),
                (133, 0.03), (136, 0.03), (140, 0.03), (143, 0.2), (145, 0.07), (150, 0.31), (153, 0.09),
                (156, 0.24), (159, 0.44), (163, 0.31), (166, 0.23), (169, 0.07), (171, 0.4), (177, 0.61),
                (178, 0.94), (180, 1.98), (183, 4.84), (185, 0.64), (187, 1.14), (190, 0.64), (192, 0.26),
                (196, 0.96), (200, 0.33), (202, 0.35), (205, 0.7), (208, 0.49), (210, 0.31), (212, 0.79),
                (214, 0.17), (217, 0.17), (222, 0.11), (225, 0.26), (226, 0.38), (229, 0.14), (231, 0.17),
                (234, 0.09), (238, 0.16), (242, 0.35), (245, 0.11), (249, 0.66), (252, 0.09), (254, 0.03),
                (256, 0.66), (260, 0.24), (264, 0.33), (267, 0.44), (269, 0.61), (271, 0.75), (274, 1.36),
                (275, 0.35), (277, 0.7), (280, 0.75), (283, 0.94), (285, 0.09), (287, 0.09), (288, 0.03),
                (292, 0.4), (296, 0.44), (300, 0.26), (303, 0.17), (305, 0.42), (308, 0.66), (311, 0.75),
                (313, 0.51), (316, 1.86), (318, 1.16), (322, 0.75), (325, 0.84), (328, 0.58), (330, 0.7),
                (333, 0.17), (336, 0.4), (338, 0.59), (340, 0.23), (343, 0.16), (345, 0.38), (349, 0.35),
                (352, 0.31), (355, 0.11), (358, 1.29)]

# panel frames (left, top, right, bottom) and plot areas in pixels
panels = [
    ("ARA Arosa", arosa_cases, arosa_load, arosa_daily, (11, 6, 978, 624), (108, 81, 822, 539)),
    ("ARA Cazis (Waldau)", cazis_cases, cazis_load, cazis_daily, (978, 6, 1947, 624), (1077, 81, 1795, 542)),
    ("ARA Klosters (Gulfia)", klosters_cases, klosters_load, klosters_daily, (1947, 6, 2911, 624),
     (2055, 80, 2756, 541)),
    ("ARA Landquart", landquart_cases, landquart_load, landquart_daily, (11, 624, 978, 1246), (114, 701, 819, 1161)),
    ("ARA Poschiavo (Li Geri)", poschiavo_cases, poschiavo_load, poschiavo_daily, (978, 624, 1947, 1246),
     (1087, 700, 1801, 1148)),
    ("ARA Scuol (Sot Ruinas)", scuol_cases, scuol_load, scuol_daily, (1947, 624, 2911, 1246),
     (2049, 700, 2762, 1148)),
    ("ARA Seewis (vord. Prättigau)", seewis_cases, seewis_load, seewis_daily, (11, 1246, 978, 1858),
     (114, 1322, 829, 1777)),
]


def fx(px):
    return px / W


def fy(py):
    return 1 - py / H


def left_fmt(v, pos):
    return "1'000" if v >= 1000 else f"{v:.0f}"


def right_fmt(v, pos):
    return f"{v:.1E}"


def draw_panel(fig, title, cases, load, daily, box, rect):
    bx0, by0, bx1, by1 = box
    x0, y0, x1, y1 = rect
    ax = fig.add_axes([fx(x0), fy(y1), (x1 - x0) / W, (y1 - y0) / H])
    ax2 = ax.twinx()

    cd, cv = zip(*cases)
    ld, lv = zip(*load)
    dd, dv = zip(*daily)

    ax.plot(cd, cv, color=PURPLE, lw=2.2, solid_joinstyle="round")
    ax2.plot(dd, np.array(dv) * LOAD_UNIT, "o", color=BLUE, ms=5.8, mew=0)
    ax2.plot(ld, np.array(lv) * LOAD_UNIT, color=BLUE, lw=2.2, solid_joinstyle="round")

    ax.set_xlim(0, 364)
    ax.set_ylim(0, 1000)
    ax.set_yticks(np.arange(0, 1001, 100))
    ax.yaxis.set_major_formatter(FuncFormatter(left_fmt))
    ax.set_xticks(tick_days)
    ax.set_xticklabels(tick_labels, rotation=90, va="top", ha="center")
    ax.tick_params(axis="x", length=0, pad=11, labelsize=15.5, labelcolor="black")
    ax.tick_params(axis="y", colors=PURPLE, length=7, width=2, pad=11, labelsize=15.5)
    ax.grid(True, color=GRID, lw=1.6)
    ax.set_axisbelow(True)

    ax2.set_ylim(0, 1e14)
    ax2.set_yticks(np.arange(0, 11) * 1e13)
    ax2.yaxis.set_major_formatter(FuncFormatter(right_fmt))
    ax2.tick_params(axis="y", colors=BLUE, length=6, width=2, pad=10, labelsize=15.5)

    for s in ("left", "top", "bottom"):
        ax2.spines[s].set_visible(False)
    ax.spines["right"].set_visible(False)
    ax.spines["left"].set_color(PURPLE)
    ax.spines["left"].set_linewidth(2)
    ax.spines["top"].set_color("black")
    ax.spines["top"].set_linewidth(2)
    ax.spines["bottom"].set_color("black")
    ax.spines["bottom"].set_linewidth(3)
    ax2.spines["right"].set_color(BLUE)
    ax2.spines["right"].set_linewidth(2)

    yc = fy((y0 + y1) / 2)
    fig.text(fx(bx0 + 20), yc, "Fallzahlen/100'000 E*d", rotation=90, ha="center", va="center",
             color=PURPLE, fontsize=16.5)
    fig.text(fx(bx1 - 22), yc, "Genfracht/100'000 E*d", rotation=90, ha="center", va="center",
             color=BLUE, fontsize=16.5)
    fig.text(fx((bx0 + bx1) / 2), fy(by0 + 36), title, ha="center", va="center",
             fontsize=18.5, fontweight="bold")


fig = plt.figure(figsize=(W / 100, H / 100), dpi=100)
fig.patch.set_facecolor("white")

for title, cases, load, daily, box, rect in panels:
    draw_panel(fig, title, cases, load, daily, box, rect)

# frames around the individual charts
frame_lines = [
    ((11, 2911), (6, 6)), ((11, 2911), (624, 624)), ((11, 2911), (1246, 1246)), ((11, 978), (1858, 1858)),
    ((11, 11), (6, 1858)), ((978, 978), (6, 1858)), ((1947, 1947), (6, 1246)), ((2911, 2911), (6, 1246)),
]
for (xa, xb), (ya, yb) in frame_lines:
    fig.add_artist(Line2D([fx(xa), fx(xb)], [fy(ya), fy(yb)], transform=fig.transFigure,
                          color="black", lw=1.5))

fig.savefig("out.png", dpi=100, facecolor="white")
plt.close(fig)
